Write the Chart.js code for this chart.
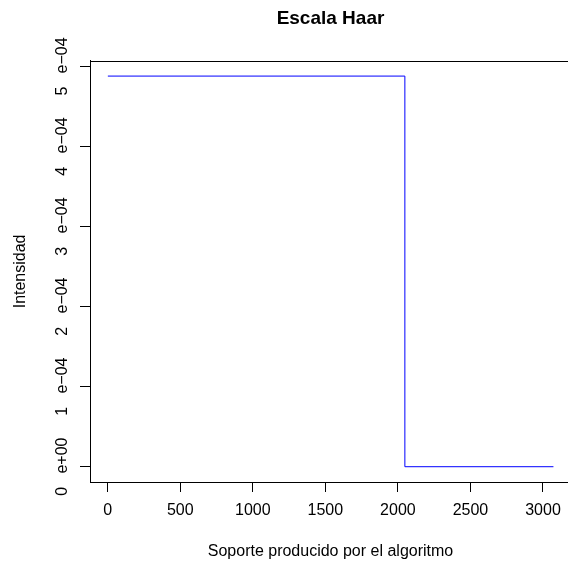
<!DOCTYPE html>
<html>
<head>
<meta charset="utf-8">
<script src="https://cdn.jsdelivr.net/npm/chart.js@4.4.1/dist/chart.umd.min.js"></script>
<style>
  html, body { margin: 0; padding: 0; background: #fff; overflow: hidden; }
  #wrap { width: 600px; height: 563px; position: relative; }
</style>
</head>
<body>
<div id="wrap"><canvas id="haarChart"></canvas></div>
<script>
// --- data ---
const soporte = [1, 2048, 3072];
const intensidad = [0.000488, 0, 0];

const xTicks = [0, 500, 1000, 1500, 2000, 2500, 3000];
const yTicks = [0, 0.0001, 0.0002, 0.0003, 0.0004, 0.0005];
const yTickLabels = ['0   e+00', '1   e\u221204', '2   e\u221204', '3   e\u221204', '4   e\u221204', '5   e\u221204'];

const FONT = "'Liberation Sans', Arial, Helvetica, sans-serif";

// box round the plot area (R style)
const boxPlugin = {
    id: 'box',
    afterDraw(chart) {
        const a = chart.chartArea;
        const c = chart.ctx;
        c.save();
        c.strokeStyle = '#000';
        c.lineWidth = 1;
        c.strokeRect(Math.round(a.left) + 0.5, Math.round(a.top) + 0.5,
                     Math.round(a.right - a.left), Math.round(a.bottom - a.top));
        c.restore();
    }
};

const ctx = document.getElementById('haarChart').getContext('2d');
const haarChart = new Chart(ctx, {
    type: 'line',
    data: {
        datasets: [{
            data: soporte.map((x, i) => ({ x: x, y: intensidad[i] })),
            borderColor: '#0000ff',
            borderWidth: 1,
            pointRadius: 0,
            fill: false,
            stepped: true
        }]
    },
    options: {
        responsive: true,
        maintainAspectRatio: false,
        animation: false,
        layout: { padding: { left: 0, right: 29, top: 0, bottom: 0 } },
        plugins: {
            legend: { display: false },
            tooltip: { enabled: false },
            title: {
                display: true,
                text: 'Escala Haar',
                fullSize: false,
                color: '#000',
                font: { family: FONT, size: 19, weight: 'bold' },
                padding: { top: 7, bottom: 31 }
            }
        },
        scales: {
            x: {
                type: 'linear',
                min: -122,
                max: 3193,
                afterBuildTicks: s => { s.ticks = xTicks.map(v => ({ value: v })); },
                afterFit: s => { s.height = 81; },
                grid: { drawOnChartArea: false, drawTicks: true, tickLength: 10, color: '#000' },
                border: { display: true, color: '#000' },
                ticks: {
                    color: '#000',
                    font: { family: FONT, size: 16 },
                    padding: 9,
                    maxRotation: 0,
                    autoSkip: false,
                    callback: v => String(v)
                },
                title: {
                    display: true,
                    text: 'Soporte producido por el algoritmo',
                    color: '#000',
                    font: { family: FONT, size: 16 },
                    padding: { top: 0, bottom: 2 }
                }
            },
            y: {
                type: 'linear',
                min: -0.0000191,
                max: 0.0005071,
                afterBuildTicks: s => { s.ticks = yTicks.map(v => ({ value: v })); },
                afterFit: s => { s.width = 90; },
                grid: { drawOnChartArea: false, drawTicks: true, tickLength: 10, color: '#000' },
                border: { display: true, color: '#000' },
                ticks: {
                    color: '#000',
                    font: { family: FONT, size: 16 },
                    minRotation: 90,
                    maxRotation: 90,
                    crossAlign: 'center',
                    padding: -12,
                    autoSkip: false,
                    callback: (v) => {
                        const i = yTicks.findIndex(t => Math.abs(t - v) < 1e-9);
                        return i >= 0 ? yTickLabels[i] : '';
                    }
                },
                title: {
                    display: true,
                    text: 'Intensidad',
                    color: '#000',
                    font: { family: FONT, size: 16 },
                    padding: { top: 11, bottom: 0 }
                }
            }
        }
    },
    plugins: [boxPlugin]
});
</script>
</body>
</html>
